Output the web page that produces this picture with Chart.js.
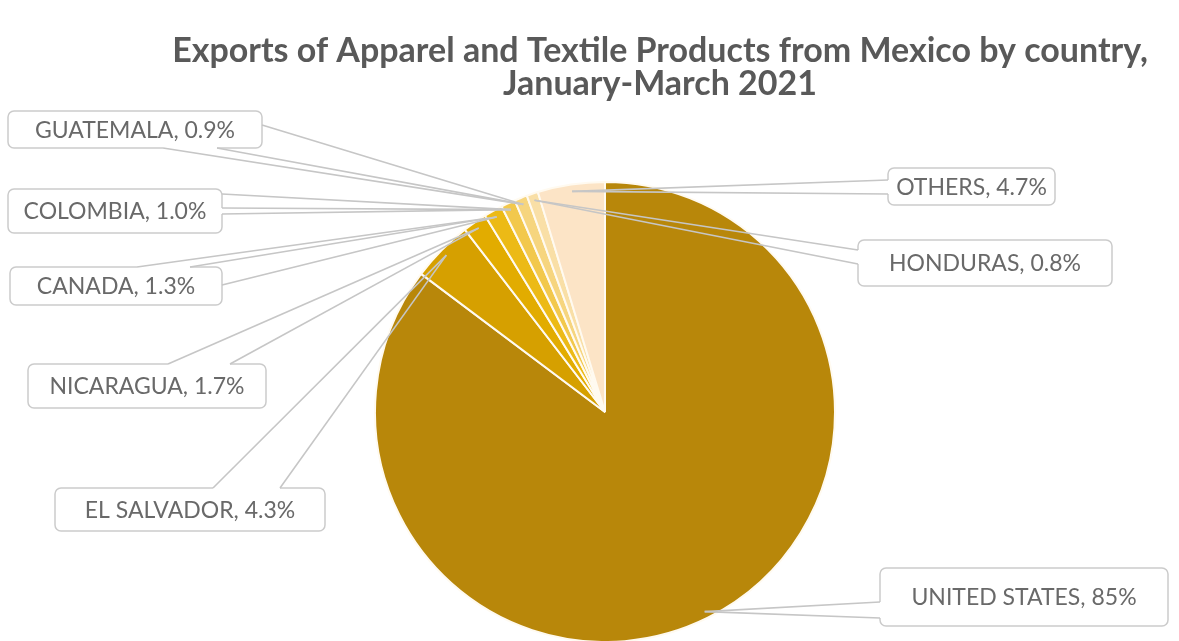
<!DOCTYPE html>
<html>
<head>
<meta charset="utf-8">
<script src="https://cdn.jsdelivr.net/npm/chart.js@4/dist/chart.umd.min.js"></script>
<style>
  html, body { margin: 0; padding: 0; background: #fff; overflow: hidden; }
  #wrap { width: 1179px; height: 641px; position: relative; }
</style>
</head>
<body>
<div id="wrap"><canvas id="exportsChart"></canvas></div>
<script>
// data
const titleLines = ['Exports of Apparel and Textile Products from Mexico by country,', 'January-March 2021'];
const countries = ['UNITED STATES', 'EL SALVADOR', 'NICARAGUA', 'CANADA', 'COLOMBIA', 'GUATEMALA', 'HONDURAS', 'OTHERS'];
const shares = [85, 4.3, 1.7, 1.3, 1.0, 0.9, 0.8, 4.7];
const sliceColors = ['#B8870A', '#D6A000', '#E2AC00', '#ECBA16', '#F2C84C', '#F6D57E', '#F9DFA6', '#FCE4C6'];

// where each callout box sits (same order as countries)
const calloutBoxes = [
    { x: 880, y: 568, w: 288, h: 58, base: [[880, 602], [880, 618]] },
    { x: 55, y: 488, w: 270, h: 43, base: [[213, 488], [280, 488]] },
    { x: 28, y: 364, w: 238, h: 44, base: [[168, 364], [230, 364]] },
    { x: 10, y: 267, w: 212, h: 38, base: [[137, 267], [190, 267]], leader: [222, 285] },
    { x: 8, y: 189, w: 214, h: 44, base: [[222, 208], [222, 214]], leader: [222, 194] },
    { x: 8, y: 111, w: 254, h: 37, base: [[163, 148], [217, 148]], leader: [262, 125] },
    { x: 858, y: 240, w: 254, h: 46, base: [[858, 250], [858, 264]] },
    { x: 888, y: 168, w: 167, h: 37, base: [[888, 180], [888, 194]] }
];

function fmtShare(v) {
    return (v >= 10 ? v.toFixed(0) : v.toFixed(1)) + '%';
}

const calloutPlugin = {
    id: 'callouts',
    afterDraw(chart) {
        const ctx = chart.ctx;
        const arcs = chart.getDatasetMeta(0).data;
        ctx.save();

        // title, fitted to the width it has in the picture
        ctx.fillStyle = '#595959';
        ctx.textAlign = 'center';
        ctx.textBaseline = 'middle';
        let size = 30;
        ctx.font = 'bold ' + size + 'px Lato';
        size = size * 976 / ctx.measureText(titleLines[0]).width;
        ctx.font = 'bold ' + size.toFixed(1) + 'px Lato';
        ctx.fillText(titleLines[0], 660, 51);
        ctx.fillText(titleLines[1], 660, 84);

        arcs.forEach((arc, i) => {
            const b = calloutBoxes[i];
            const p = arc.getProps(['x', 'y', 'startAngle', 'endAngle', 'outerRadius'], true);
            const mid = (p.startAngle + p.endAngle) / 2;
            const tipX = p.x + Math.cos(mid) * p.outerRadius * 0.97;
            const tipY = p.y + Math.sin(mid) * p.outerRadius * 0.97;

            // box
            ctx.beginPath();
            ctx.roundRect(b.x, b.y, b.w, b.h, 6);
            ctx.fillStyle = '#ffffff';
            ctx.fill();
            ctx.lineWidth = 1.5;
            ctx.strokeStyle = '#cbcbcb';
            ctx.stroke();

            // open the border where the wedge joins
            ctx.beginPath();
            ctx.moveTo(b.base[0][0], b.base[0][1]);
            ctx.lineTo(b.base[1][0], b.base[1][1]);
            ctx.strokeStyle = '#ffffff';
            ctx.lineWidth = 3;
            ctx.stroke();

            // wedge + leader lines
            ctx.strokeStyle = '#c6c6c6';
            ctx.lineWidth = 1.6;
            const starts = b.leader ? b.base.concat([b.leader]) : b.base;
            starts.forEach(s => {
                ctx.beginPath();
                ctx.moveTo(s[0], s[1]);
                ctx.lineTo(tipX, tipY);
                ctx.stroke();
            });

            // label text
            ctx.fillStyle = '#696969';
            ctx.font = '23px Lato';
            ctx.textAlign = 'center';
            ctx.textBaseline = 'middle';
            ctx.fillText(countries[i] + ', ' + fmtShare(shares[i]), b.x + b.w / 2, b.y + b.h / 2 + 1);
        });
        ctx.restore();
    }
};

const ctx = document.getElementById('exportsChart').getContext('2d');
const exportsChart = new Chart(ctx, {
    type: 'pie',
    data: {
        labels: countries,
        datasets: [{
            data: shares,
            backgroundColor: sliceColors,
            borderColor: '#fffaf0',
            borderWidth: 2,
            clip: false
        }]
    },
    options: {
        responsive: true,
        maintainAspectRatio: false,
        animation: false,
        radius: 230,
        layout: {
            padding: { left: 375, right: 344, top: 183, bottom: 0 }
        },
        plugins: {
            legend: { display: false },
            tooltip: { enabled: false }
        }
    },
    plugins: [calloutPlugin]
});
</script>
</body>
</html>
